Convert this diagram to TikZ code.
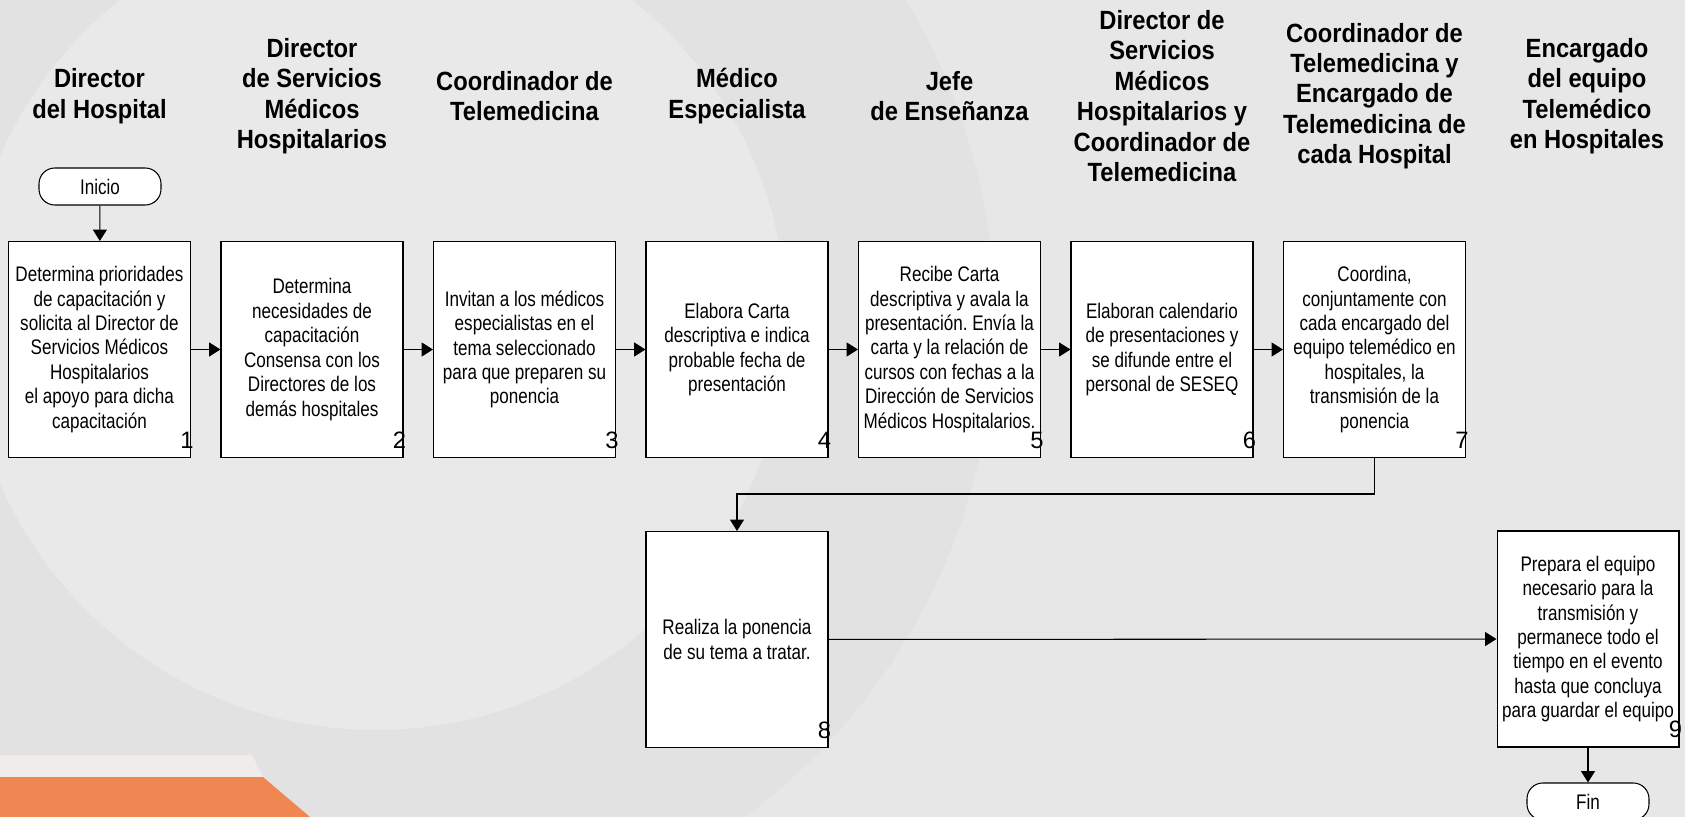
\documentclass[tikz,border=0pt]{standalone}
\usepackage{fontspec}
\setmainfont{Liberation Sans}[FakeStretch=0.81]
\newfontfamily\headfont{Liberation Sans}[FakeStretch=0.9]
\newfontfamily\numfont{Liberation Sans}
\usetikzlibrary{arrows.meta, positioning, calc}
\definecolor{bggray}{RGB}{231,231,231}
\definecolor{ringgray}{RGB}{226,226,226}
\definecolor{disclight}{RGB}{233,233,233}
\definecolor{bandlight}{RGB}{240,236,233}
\definecolor{orangebar}{RGB}{240,134,82}
\frenchspacing

\tikzset{
  lane/.style={font=\headfont\bfseries\fontsize{15}{17.3}\selectfont, align=center, inner sep=0pt},
  task/.style={draw=black, fill=white, line width=0.6pt, minimum width=3.64cm, minimum height=4.32cm,
    inner sep=1pt, align=center, font=\fontsize{12}{13.9}\selectfont},
  term/.style={draw=black, fill=white, line width=0.6pt, rounded corners=9pt, minimum width=2.44cm,
    minimum height=0.74cm, inner sep=0pt, font=\fontsize{12}{13.9}\selectfont},
  num/.style={font=\numfont\fontsize{13.5}{14}\selectfont, inner sep=0pt, anchor=base east},
  flow/.style={line width=0.6pt, -{Triangle[length=6.5pt, width=8pt]}}
}

\begin{document}
\begin{tikzpicture}[x=0.02cm, y=-0.02cm]
  \useasboundingbox (0,0) rectangle (1685,817);
  % background and watermark
  \fill[bggray] (0,0) rectangle (1685,817);
  \begin{scope}
    \clip (0,0) rectangle (1685,817);
    \fill[ringgray, even odd rule] (376,320) circle[radius=12.38cm] (376,320) circle[radius=8.2cm];
    \fill[disclight] (376,320) circle[radius=8.2cm];
  \end{scope}
  \fill[bandlight] (0,755) -- (252,755) -- (263,777) -- (0,777) -- cycle;
  \fill[orangebar] (0,777) -- (263,777) -- (310,817) -- (0,817) -- cycle;

  % lanes
  \node[lane] (h1) at (99.5,96) {Director\\del Hospital};
  \node[lane] (h2) at (312,96) {Director\\de Servicios\\Médicos\\Hospitalarios};
  \node[lane] (h3) at (524.5,96) {Coordinador de\\Telemedicina};
  \node[lane] (h4) at (737,96) {Médico\\Especialista};
  \node[lane] (h5) at (949.5,96) {Jefe\\de Enseñanza};
  \node[lane] (h6) at (1162,96) {Director de\\Servicios\\Médicos\\Hospitalarios y\\Coordinador de\\Telemedicina};
  \node[lane] (h7) at (1374.5,96) {Coordinador de\\Telemedicina y\\Encargado de\\Telemedicina de\\cada Hospital};
  \node[lane] (h8) at (1587,96) {Encargado\\del equipo\\Telemédico\\en Hospitales};

  % steps
  \node[term] (inicio) at (100,186.5) {Inicio};
  \node[task] (b1) at (99.5,349.5) {Determina prioridades\\de capacitación y\\solicita al Director de\\Servicios Médicos\\Hospitalarios\\el apoyo para dicha\\capacitación};
  \node[task] (b2) at (312,349.5) {Determina\\necesidades de\\capacitación\\Consensa con los\\Directores de los\\demás hospitales};
  \node[task] (b3) at (524.5,349.5) {Invitan a los médicos\\especialistas en el\\tema seleccionado\\para que preparen su\\ponencia};
  \node[task] (b4) at (737,349.5) {Elabora Carta\\descriptiva e indica\\probable fecha de\\presentación};
  \node[task] (b5) at (949.5,349.5) {Recibe Carta\\descriptiva y avala la\\presentación. Envía la\\carta y la relación de\\cursos con fechas a la\\Dirección de Servicios\\Médicos Hospitalarios.};
  \node[task] (b6) at (1162,349.5) {Elaboran calendario\\de presentaciones y\\se difunde entre el\\personal de SESEQ};
  \node[task] (b7) at (1374.5,349.5) {Coordina,\\conjuntamente con\\cada encargado del\\equipo telemédico en\\hospitales, la\\transmisión de la\\ponencia};
  \node[task, below=1.46cm of b4] (b8) {Realiza la ponencia\\de su tema a tratar.};
  \node[task] (b9) at (1588,639) {Prepara el equipo\\necesario para la\\transmisión y\\permanece todo el\\tiempo en el evento\\hasta que concluya\\para guardar el equipo};
  \node[term] (fin) at (1588,801.5) {Fin};

  \foreach \i in {1,...,9}
    \node[num] at ([xshift=0.06cm, yshift=0.2cm]b\i.south east) {\i};

  % connectors
  \coordinate (turn) at (1374.5,494);
  \draw[flow] (inicio) -- (b1);
  \foreach \a/\b in {b1/b2, b2/b3, b3/b4, b4/b5, b5/b6, b6/b7}
    \draw[flow] (\a) -- (\b);
  \draw[flow] (b7.south) -- (turn) -| (b8.north);
  \draw[flow] (b8) -- (b9);
  \draw[flow] (b9) -- (fin);
\end{tikzpicture}
\end{document}
